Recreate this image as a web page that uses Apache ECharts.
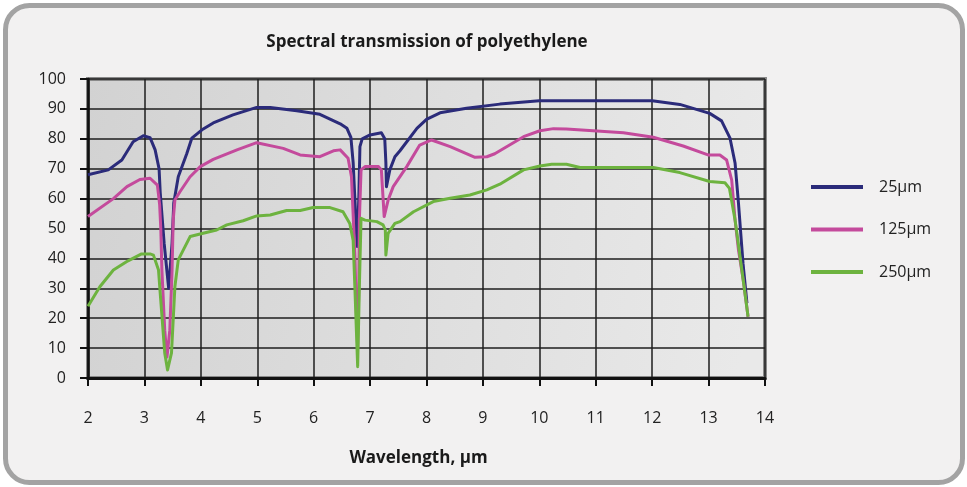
<!DOCTYPE html>
<html>
<head>
<meta charset="utf-8">
<script src="https://cdn.jsdelivr.net/npm/echarts@6/dist/echarts.min.js"></script>
<style>
html,body{margin:0;padding:0;background:#ffffff;}
#chart{width:967px;height:487px;}
</style>
</head>
<body>
<div id="chart"></div>
<script>
// Wavelength (µm) and transmission (%) for each film thickness
const wl25 = [2.0,2.36,2.6,2.8,2.98,3.1,3.19,3.26,3.28,3.35,3.43,3.49,3.52,3.6,3.75,3.84,4.02,4.22,4.57,4.99,5.23,5.7,6.11,6.47,6.59,6.66,6.7,6.73,6.77,6.8,6.82,6.86,7.0,7.2,7.26,7.28,7.29,7.35,7.44,7.53,7.83,8.0,8.24,8.71,9.3,10.0,12.0,12.49,13.02,13.23,13.38,13.47,13.53,13.61,13.68];
const t25  = [68,69.6,72.9,79,81,80.4,76.3,70,62,45,30,45,58.5,67.3,75,80.2,83,85.3,88,90.5,90.5,89.4,88.2,85,83.5,80.5,72,60,44,60,77.4,80,81.3,82,80,72,64,69.6,74,76,83.5,86.5,88.7,90.2,91.6,92.7,92.7,91.5,88.5,86,80.2,71.8,58.4,38.4,25];

const wl125 = [2.0,2.45,2.69,2.92,3.1,3.23,3.27,3.29,3.31,3.36,3.4,3.45,3.49,3.51,3.54,3.63,3.81,3.99,4.22,4.64,4.99,5.46,5.76,6.11,6.35,6.47,6.61,6.67,6.73,6.76,6.78,6.8,6.81,6.84,6.91,7.15,7.2,7.25,7.32,7.41,7.65,7.88,8.09,8.42,8.86,9.07,9.21,9.72,10.01,10.25,10.48,11.02,11.49,12.02,12.55,12.99,13.2,13.32,13.41,13.47,13.53,13.62,13.7];
const t125  = [54,60,64,66.4,66.8,64.5,58,50,36,16,7,16,36,52.8,59.5,62.3,67.3,70.7,73.1,76.3,78.7,76.8,74.6,74,76,76.3,73.5,67.3,41.8,20,10,30,52.8,69.6,70.7,70.7,69.6,54,59.5,64,70.7,77.9,79.6,77.4,73.8,74,75,80.7,82.7,83.4,83.3,82.6,82,80.5,77.6,74.6,74.6,72.9,66.2,52.8,42.8,32,20.5];

const wl250 = [2.0,2.21,2.45,2.71,2.95,3.1,3.16,3.25,3.28,3.36,3.41,3.48,3.54,3.6,3.81,4.04,4.28,4.46,4.75,4.99,5.23,5.52,5.76,5.99,6.29,6.52,6.64,6.7,6.73,6.78,6.81,6.84,6.91,7.12,7.23,7.27,7.28,7.32,7.44,7.53,7.77,8.12,8.42,8.77,9.07,9.3,9.72,10.01,10.22,10.48,10.72,12.02,12.49,13.02,13.29,13.37,13.47,13.59,13.7];
const t250  = [24,30.5,36.1,39.2,41.5,41.5,41.1,36.1,28.4,8.4,2.7,8.4,30.5,39.5,47.3,48.4,49.5,51.2,52.6,54.2,54.5,56,56,57,57,55.6,51.7,46,30.5,3.8,30.5,53.4,52.8,52.3,51.2,49.5,41.1,48.4,51.7,52.3,55.6,59,60.1,61.2,62.9,64.8,69.6,70.9,71.5,71.5,70.4,70.4,68.7,65.7,65.3,63.4,52.8,36.1,20.5];

const seriesNames = ['25µm','125µm','250µm'];
const seriesColors = ['#2b2b7a','#c44a9c','#6db33f'];
const xTicks = {min:2, max:14, step:1};
const yTicks = {min:0, max:100, step:10};

const zip = (xs, ys) => xs.map((x, i) => [x, ys[i]]);
const allData = [zip(wl25, t25), zip(wl125, t125), zip(wl250, t250)];

const chart = echarts.init(document.getElementById('chart'), null, {renderer:'canvas'});
const font = '"Open Sans", "Noto Sans", sans-serif';

const option = {
  backgroundColor: '#ffffff',
  animation: false,
  graphic: [{
    type: 'rect', z: -10, silent: true,
    shape: {x: 5.5, y: 5.5, width: 957, height: 477, r: 24},
    style: {fill: '#f2f1f1', stroke: '#a3a3a3', lineWidth: 5}
  }],
  title: {
    text: 'Spectral transmission of polyethylene',
    left: 422, top: 29, textAlign: 'center',
    textStyle: {fontFamily: font, fontWeight: 'bold', fontSize: 17, color: '#1a1a1a'}
  },
  legend: {
    orient: 'vertical',
    left: 806, top: 174,
    itemWidth: 52, itemHeight: 4,
    itemGap: 26.5,
    icon: 'rect',
    textStyle: {fontFamily: font, fontSize: 16, color: '#222', padding: [0,0,0,11]},
    data: seriesNames
  },
  grid: {
    left: 88, right: 202, top: 79, bottom: 109,
    show: true,
    borderColor: '#8a8a8a', borderWidth: 4,
    backgroundColor: new echarts.graphic.LinearGradient(0, 0, 1, 0.3, [
      {offset: 0, color: '#d2d2d2'},
      {offset: 1, color: '#e9e9e9'}
    ])
  },
  xAxis: {
    type: 'value',
    min: xTicks.min, max: xTicks.max, interval: xTicks.step,
    name: 'Wavelength, µm',
    nameLocation: 'middle', nameGap: 72,
    nameTextStyle: {fontFamily: font, fontWeight: 'bold', fontSize: 17, color: '#1a1a1a', padding: [0, 16, 0, 0]},
    axisLine: {show: true, onZero: false, lineStyle: {color: '#111', width: 3}},
    axisTick: {show: true, length: 8, lineStyle: {color: '#111', width: 2}},
    axisLabel: {margin: 32, fontFamily: font, fontSize: 16, color: '#222'},
    splitLine: {show: true, lineStyle: {color: '#1e1e1e', width: 1.5}}
  },
  yAxis: {
    type: 'value',
    min: yTicks.min, max: yTicks.max, interval: yTicks.step,
    axisLine: {show: true, lineStyle: {color: '#111', width: 2.5}},
    axisTick: {show: true, length: 8, lineStyle: {color: '#111', width: 2}},
    axisLabel: {margin: 22, fontFamily: font, fontSize: 16, color: '#222'},
    splitLine: {show: true, lineStyle: {color: '#1e1e1e', width: 1.5}}
  },
  series: allData.map((d, i) => ({
    name: seriesNames[i],
    type: 'line',
    data: d,
    symbol: 'none',
    smooth: false,
    z: 3 + i,
    lineStyle: {color: seriesColors[i], width: 3, join: 'round'},
    itemStyle: {color: seriesColors[i]}
  }))
};
chart.setOption(option);
</script>
</body>
</html>
